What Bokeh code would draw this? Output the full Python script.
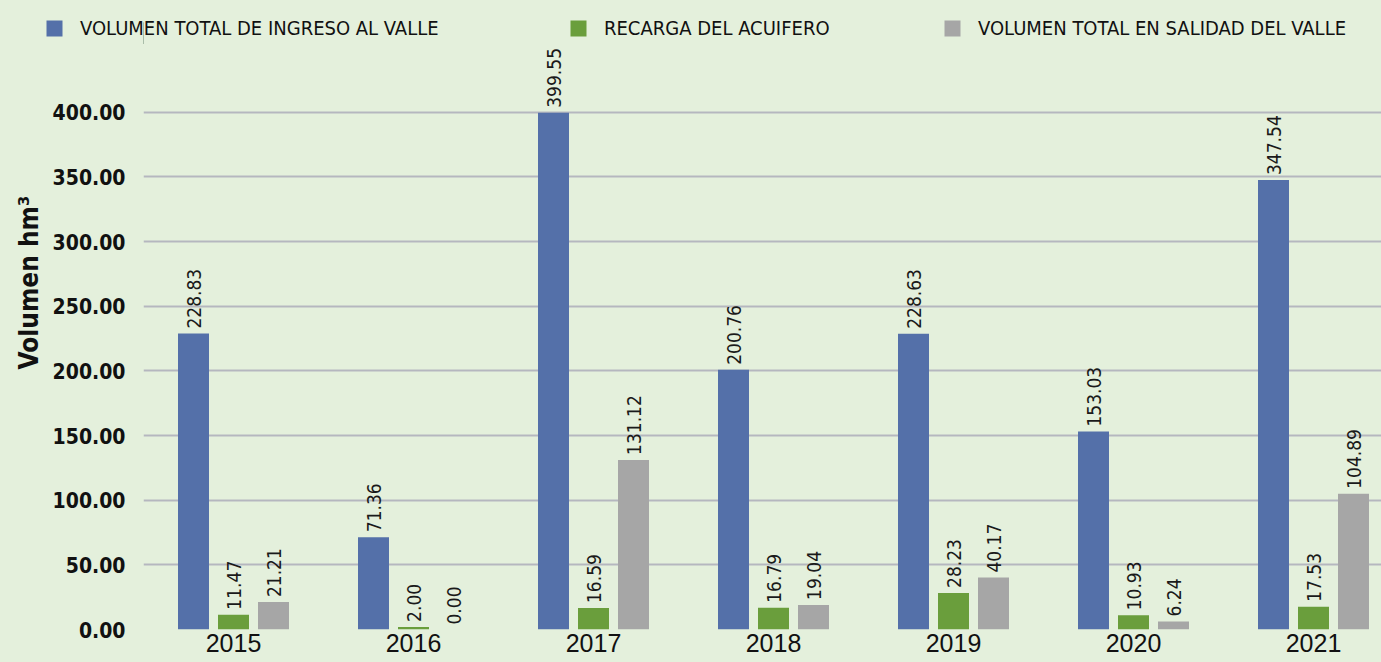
import math
from bokeh.plotting import figure
from bokeh.layouts import column
from bokeh.models import (ColumnDataSource, Range1d, FixedTicker, NumeralTickFormatter,
                          Legend, LegendItem, Title)
from bokeh.core.properties import value
from bokeh.embed import file_html
from bokeh.resources import INLINE

years = ["2015", "2016", "2017", "2018", "2019", "2020", "2021"]
ingreso = [228.83, 71.36, 399.55, 200.76, 228.63, 153.03, 347.54]
recarga = [11.47, 2.00, 16.59, 16.79, 28.23, 10.93, 17.53]
salida = [21.21, 0.00, 131.12, 19.04, 40.17, 6.24, 104.89]
series_names = ["VOLUMEN TOTAL DE INGRESO AL VALLE", "RECARGA DEL ACUIFERO",
                "VOLUMEN TOTAL EN SALIDAD DEL VALLE"]
y_ticks = [0, 50, 100, 150, 200, 250, 300, 350, 400]

BG = "#E4F0DC"
colors = ["#5470A9", "#6A9E3C", "#A6A6A6"]
COND = "DejaVu Sans Condensed"

TOP_H = 44
xs = list(range(len(years)))
p = figure(width=1381, height=662 - TOP_H, frame_width=1238, frame_height=629 - TOP_H,
           output_backend="svg", toolbar_location=None,
           x_range=Range1d(-0.5, -0.5 + 1238 / 180), y_range=Range1d(0, (629 - TOP_H) / 1.2933),
           min_border_left=143, min_border_right=0, min_border_top=0, min_border_bottom=33,
           background_fill_color=BG, border_fill_color=BG)
p.outline_line_color = None

offsets = [-40 / 180, 0, 40 / 180]
renderers = []
for vals, col, off in zip([ingreso, recarga, salida], colors, offsets):
    src = ColumnDataSource(dict(x=[v + off for v in xs], top=vals,
                                lab=["%.2f" % v for v in vals]))
    r = p.vbar(x="x", top="top", width=31 / 180, bottom=0, source=src,
               fill_color=col, line_color=None)
    renderers.append(r)
    p.text(x="x", y="top", text="lab", source=src, angle=math.pi / 2,
           text_align="left", text_baseline="middle", y_offset=-5,
           text_font=value(COND), text_font_size="19px", text_color="#1a1a1a")

# axes
p.xaxis.ticker = FixedTicker(ticks=xs)
p.xaxis.major_label_overrides = {i: y for i, y in enumerate(years)}
p.xaxis.major_label_text_font = "Liberation Sans"
p.xaxis.major_label_text_font_size = "25px"
p.xaxis.major_label_text_color = "#111111"
p.xaxis.major_label_standoff = 4
p.xaxis.major_tick_out = 0
p.xaxis.major_tick_line_color = None
p.xaxis.minor_tick_line_color = None
p.xaxis.axis_line_color = None

p.yaxis.ticker = FixedTicker(ticks=y_ticks)
p.yaxis.formatter = NumeralTickFormatter(format="0.00")
p.yaxis.major_label_text_font = COND
p.yaxis.major_label_text_font_style = "bold"
p.yaxis.major_label_text_font_size = "21px"
p.yaxis.major_label_text_color = "#111111"
p.yaxis.major_label_standoff = 18
p.yaxis.major_tick_out = 0
p.yaxis.major_tick_line_color = None
p.yaxis.minor_tick_line_color = None
p.yaxis.axis_line_color = None

ytitle = Title(text="Volumen hm³", align="left", offset=260, standoff=12,
               text_font=COND, text_font_style="bold", text_font_size="26px",
               text_color="#111111")
p.add_layout(ytitle, "left")

p.xgrid.grid_line_color = None
p.ygrid.grid_line_color = "#B5B7BF"
p.ygrid.grid_line_width = 2

# legend strip above the chart
lg_fig = figure(width=1381, height=TOP_H, frame_width=1381, frame_height=TOP_H,
                output_backend="svg", toolbar_location=None,
                x_range=Range1d(0, 1), y_range=Range1d(0, 1),
                min_border=0, background_fill_color=None, border_fill_color=None)
lg_fig.outline_line_color = None
lg_fig.axis.visible = False
lg_fig.grid.visible = False
for col, name, lx in zip(colors, series_names, [44, 568, 942]):
    dummy = lg_fig.vbar(x=[-10], top=[0.5], width=0.1, fill_color=col, line_color=None)
    lg = Legend(items=[LegendItem(label=name, renderers=[dummy])], location=(lx, 4),
                orientation="horizontal", glyph_width=20, glyph_height=20,
                label_standoff=16, label_text_font=COND, label_text_font_size="20px",
                label_text_color="#111111", padding=0, margin=0, spacing=0,
                border_line_color=None, background_fill_alpha=0)
    lg_fig.add_layout(lg, "center")

layout = column(lg_fig, p, spacing=0, styles={"background-color": BG})
open("out.html", "w").write(file_html(layout, INLINE))
